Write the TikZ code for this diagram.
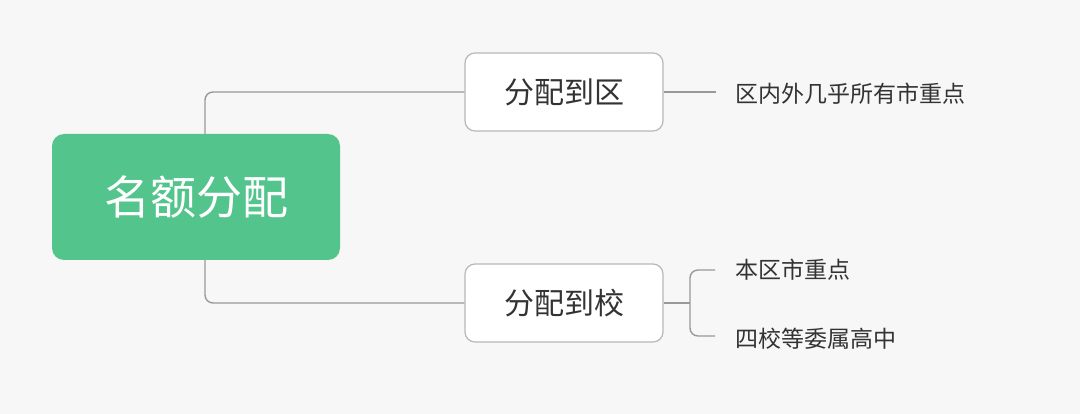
\documentclass[tikz,border=0pt]{standalone}
\usepackage{fontspec}
\setmainfont{Noto Sans CJK SC}
\definecolor{rootgreen}{HTML}{52C48C}
\definecolor{bggray}{HTML}{F7F7F7}
\definecolor{edgegray}{HTML}{999999}
\definecolor{txtgray}{HTML}{333333}
\tikzset{
  root/.style={fill=rootgreen,rounded corners=12pt,minimum width=288pt,minimum height=126pt,
    text=white,font=\fontsize{46}{50}\selectfont},
  topic/.style={fill=white,draw=edgegray!70,line width=1.2pt,rounded corners=10pt,
    minimum width=198pt,minimum height=78pt,text=txtgray,font=\fontsize{30}{34}\selectfont},
  leaf/.style={anchor=west,text=txtgray,font=\fontsize{23}{26}\selectfont,inner sep=0pt},
  link/.style={draw=edgegray,line width=1.4pt,rounded corners=8pt}
}
\begin{document}
\begin{tikzpicture}[x=1pt,y=-1pt]
\fill[bggray] (0,0) rectangle (1080,414);
\useasboundingbox (0,0) rectangle (1080,414);

% nodes
\node[root] (mef) at (196,197) {名额分配};
\node[topic] (fq) at (564,92) {分配到区};
\node[topic] (fx) at (564,303) {分配到校};
\node[leaf] (qn) at (735,94) {区内外几乎所有市重点};
\node[leaf] (bq) at (735,270) {本区市重点};
\node[leaf] (sx) at (735,339) {四校等委属高中};
\coordinate (fxr) at (690,303);

% connectors
\draw[link] (mef.north -| 205,0) |- (fq.west);
\draw[link] (mef.south -| 205,0) |- (fx.west);
\draw[link] (fq.east) -- ++(52,0);
\draw[link] (fx.east) -- (fxr);
\draw[link] (715,270) -| (fxr) |- (715,336);
\end{tikzpicture}
\end{document}
